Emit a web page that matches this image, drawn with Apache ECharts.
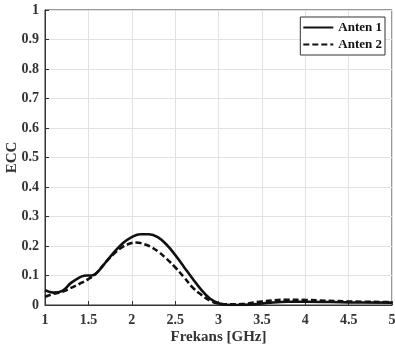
<!DOCTYPE html>
<html><head><meta charset="utf-8">
<script src="https://cdn.jsdelivr.net/npm/echarts@6/dist/echarts.min.js"></script>
<style>html,body{margin:0;padding:0;background:#fff}#c{width:395px;height:352px}</style>
</head><body><div id="c"></div>
<script>
const freq1 = [1.0,1.1,1.2,1.3,1.4,1.45,1.5,1.55,1.6,1.7,1.8,1.9,2.0,2.1,2.2,2.3,2.4,2.5,2.6,2.7,2.8,2.9,3.0,3.1,3.2,3.4,3.6,3.8,4.0,4.5,5.0];
const anten1 = [0.05,0.042,0.048,0.075,0.094,0.099,0.1,0.101,0.11,0.145,0.18,0.21,0.23,0.24,0.24,0.23,0.205,0.17,0.13,0.09,0.052,0.022,0.006,0.001,0.0,0.002,0.008,0.011,0.011,0.009,0.008];
const freq2 = [1.0,1.1,1.2,1.3,1.4,1.5,1.6,1.7,1.8,1.9,2.0,2.05,2.1,2.2,2.3,2.4,2.5,2.6,2.7,2.8,2.9,3.0,3.1,3.3,3.5,3.8,4.0,4.5,5.0];
const anten2 = [0.028,0.038,0.045,0.058,0.072,0.088,0.11,0.145,0.175,0.198,0.21,0.212,0.21,0.2,0.182,0.157,0.128,0.095,0.06,0.035,0.015,0.005,0.002,0.004,0.012,0.018,0.017,0.012,0.01];
const xTicks = ['1','1.5','2','2.5','3','3.5','4','4.5','5'];
const yTicks = ['0','0.1','0.2','0.3','0.4','0.5','0.6','0.7','0.8','0.9','1'];
const seriesNames = ['Anten 1','Anten 2'];

const ff = 'Liberation Serif';
const chart = echarts.init(document.getElementById('c'));
const axisCommon = {
  axisLine:{show:true,lineStyle:{color:'#333',width:1}},
  axisTick:{show:true,inside:true,length:4,lineStyle:{color:'#333'}},
  splitLine:{show:true,lineStyle:{color:'#e2e2e2',width:1}},
  axisLabel:{fontFamily:ff,fontWeight:'bold',fontSize:14,color:'#333'}
};
chart.setOption({
  animation:false,
  grid:{left:45,right:3,top:10,bottom:47,show:true,borderColor:'#333',borderWidth:1,containLabel:false,outerBoundsMode:'none'},
  legend:{
    top:17,right:10,orient:'vertical',itemGap:4,itemWidth:30,itemHeight:10,
    borderColor:'#333',borderWidth:1,backgroundColor:'#fff',padding:[4,3,4,2],
    itemStyle:{opacity:0},
    textStyle:{fontFamily:ff,fontWeight:'bold',fontSize:13,color:'#111'},
    data:seriesNames
  },
  xAxis:{type:'value',min:1,max:5,interval:0.5,
    name:'Frekans [GHz]',nameLocation:'middle',nameGap:25,nameMoveOverlap:false,
    nameTextStyle:{fontFamily:ff,fontWeight:'bold',fontSize:15,color:'#333'},
    ...axisCommon,
    axisLabel:{...axisCommon.axisLabel,margin:8,formatter:v=>xTicks[Math.round((v-1)/0.5)]}
  },
  yAxis:{type:'value',min:0,max:1,interval:0.1,
    name:'ECC',nameLocation:'middle',nameGap:25,nameMoveOverlap:false,
    nameTextStyle:{fontFamily:ff,fontWeight:'bold',fontSize:15,color:'#333'},
    ...axisCommon,
    axisLabel:{...axisCommon.axisLabel,margin:6,formatter:v=>yTicks[Math.round(v/0.1)]}
  },
  series:[
    {name:seriesNames[0],type:'line',smooth:0.4,symbol:'none',
     data:freq1.map((f,i)=>[f,anten1[i]]),
     lineStyle:{color:'#111',width:2.6},itemStyle:{color:'#111'}},
    {name:seriesNames[1],type:'line',smooth:0.4,symbol:'none',
     data:freq2.map((f,i)=>[f,anten2[i]]),
     lineStyle:{color:'#111',width:2.6,type:[6,3]},itemStyle:{color:'#111'}}
  ]
});
</script></body></html>
